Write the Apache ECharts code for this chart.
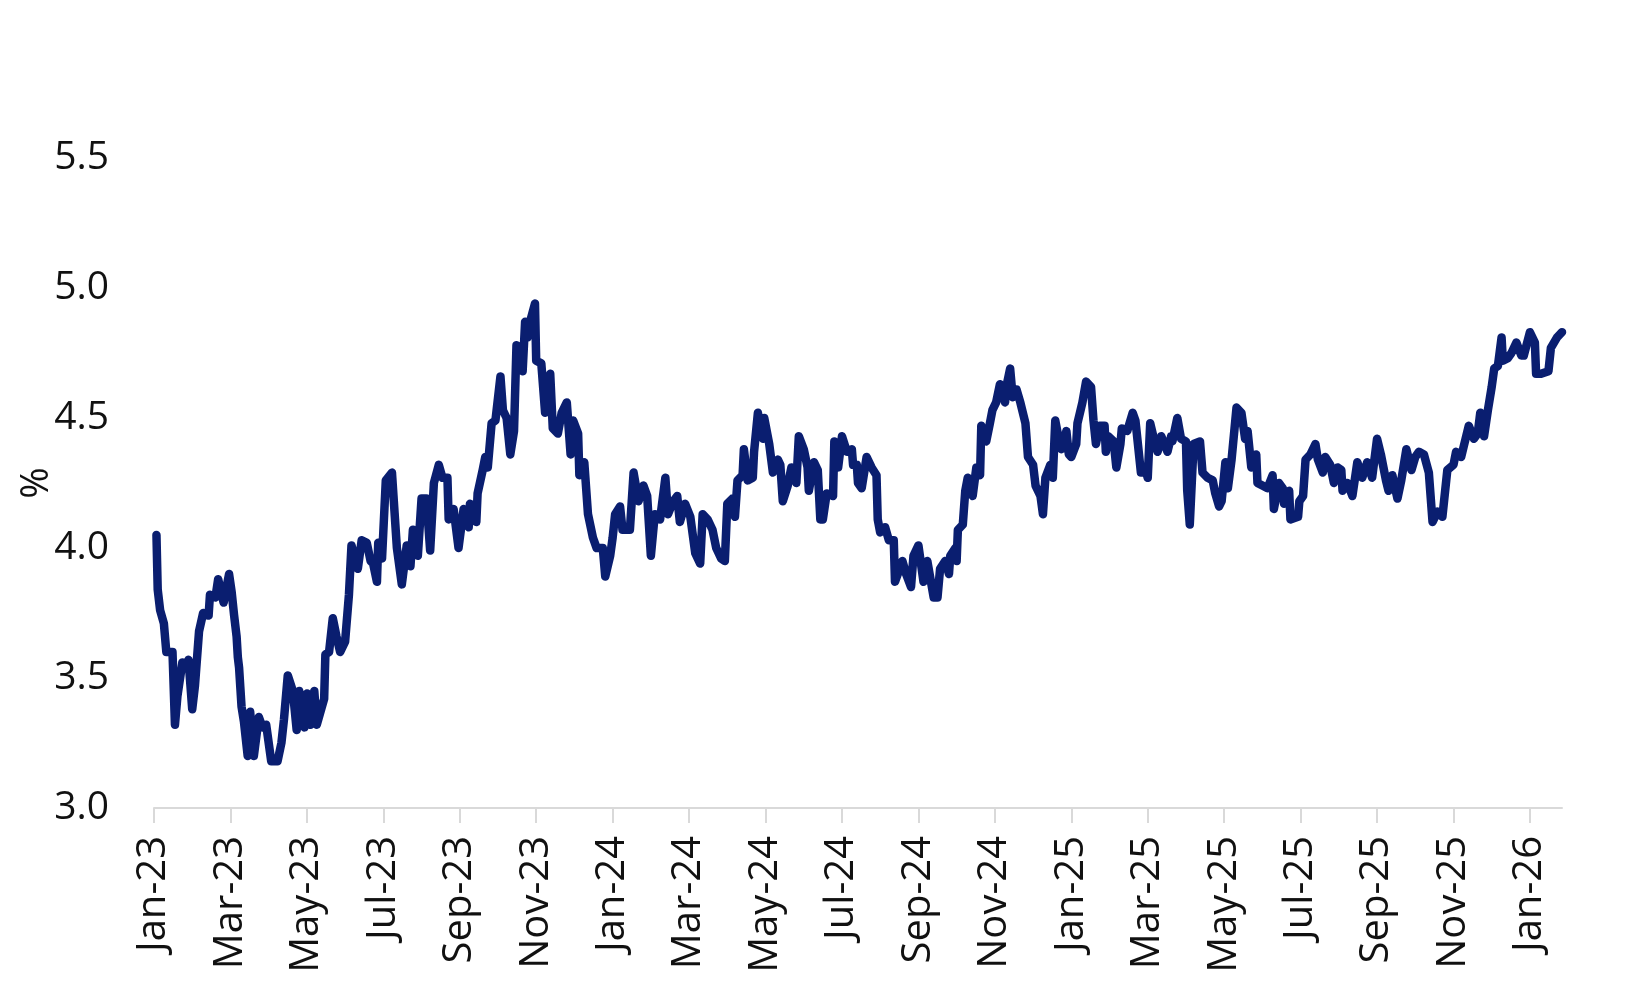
<!DOCTYPE html>
<html>
<head>
<meta charset="utf-8">
<title>Yield</title>
<script src="https://cdn.jsdelivr.net/npm/echarts@6.0.0/dist/echarts.min.js"></script>
<style>
  html, body { margin: 0; padding: 0; background: #fff; }
  #main { width: 1650px; height: 990px; }
</style>
</head>
<body>
<div id="main"></div>
<script>
// dates (roughly every few trading days)
var dates = [
  '2023-01-03','2023-01-04','2023-01-06','2023-01-09','2023-01-11','2023-01-16','2023-01-18','2023-01-20','2023-01-24','2023-01-27',
  '2023-01-29','2023-02-01','2023-02-03','2023-02-06','2023-02-09','2023-02-13','2023-02-14','2023-02-18','2023-02-20','2023-02-24',
  '2023-02-28','2023-03-02','2023-03-04','2023-03-06','2023-03-07','2023-03-08','2023-03-10','2023-03-12','2023-03-15','2023-03-17',
  '2023-03-20','2023-03-24','2023-03-27','2023-03-30','2023-04-03','2023-04-08','2023-04-11','2023-04-13','2023-04-16','2023-04-20',
  '2023-04-23','2023-04-25','2023-04-29','2023-05-01','2023-05-04','2023-05-07','2023-05-09','2023-05-15','2023-05-16','2023-05-19',
  '2023-05-22','2023-05-25','2023-05-28','2023-06-01','2023-06-04','2023-06-06','2023-06-11','2023-06-14','2023-06-18','2023-06-21',
  '2023-06-23','2023-06-26','2023-06-27','2023-06-30','2023-07-03','2023-07-08','2023-07-12','2023-07-16','2023-07-20','2023-07-23',
  '2023-07-25','2023-07-29','2023-08-01','2023-08-05','2023-08-08','2023-08-11','2023-08-15','2023-08-18','2023-08-22','2023-08-23',
  '2023-08-27','2023-08-31','2023-09-04','2023-09-08','2023-09-09','2023-09-14','2023-09-15','2023-09-19','2023-09-21','2023-09-23',
  '2023-09-26','2023-09-29','2023-10-03','2023-10-05','2023-10-08','2023-10-11','2023-10-14','2023-10-16','2023-10-19','2023-10-21',
  '2023-10-23','2023-10-25','2023-10-27','2023-10-31','2023-11-01','2023-11-05','2023-11-08','2023-11-12','2023-11-14','2023-11-18',
  '2023-11-21','2023-11-25','2023-11-28','2023-11-30','2023-12-04','2023-12-05','2023-12-09','2023-12-12','2023-12-16','2023-12-19',
  '2023-12-24','2023-12-26','2023-12-30',
  '2024-01-01','2024-01-03','2024-01-07','2024-01-09','2024-01-15','2024-01-18','2024-01-22','2024-01-26','2024-01-29','2024-02-01',
  '2024-02-04','2024-02-08','2024-02-12','2024-02-14','2024-02-18','2024-02-21','2024-02-23','2024-02-27','2024-03-02','2024-03-06',
  '2024-03-10','2024-03-12','2024-03-16','2024-03-20','2024-03-23','2024-03-27','2024-03-30','2024-04-01','2024-04-05','2024-04-07',
  '2024-04-09','2024-04-13','2024-04-14','2024-04-17','2024-04-21','2024-04-22','2024-04-25','2024-04-29','2024-04-30','2024-05-04',
  '2024-05-07','2024-05-11','2024-05-13','2024-05-15','2024-05-19','2024-05-22','2024-05-26','2024-05-28','2024-06-01','2024-06-04',
  '2024-06-05','2024-06-09','2024-06-12','2024-06-14','2024-06-16','2024-06-19','2024-06-24','2024-06-25','2024-06-28','2024-07-01',
  '2024-07-05','2024-07-09','2024-07-10','2024-07-13','2024-07-14','2024-07-17','2024-07-21','2024-07-25','2024-07-29','2024-07-30',
  '2024-08-01','2024-08-05','2024-08-08','2024-08-12','2024-08-13','2024-08-19','2024-08-22','2024-08-26','2024-08-28','2024-09-01',
  '2024-09-05','2024-09-08','2024-09-13','2024-09-16','2024-09-18','2024-09-22','2024-09-25','2024-09-26','2024-09-30','2024-10-01',
  '2024-10-02','2024-10-06','2024-10-08','2024-10-10','2024-10-14','2024-10-17','2024-10-20','2024-10-21','2024-10-25','2024-10-28',
  '2024-10-30','2024-11-02','2024-11-05','2024-11-09','2024-11-10','2024-11-13','2024-11-15','2024-11-18','2024-11-21','2024-11-25',
  '2024-11-27','2024-12-01','2024-12-03','2024-12-07','2024-12-09','2024-12-11','2024-12-15','2024-12-17','2024-12-19','2024-12-21',
  '2024-12-24','2024-12-28','2024-12-30',
  '2025-01-01','2025-01-05','2025-01-06','2025-01-10','2025-01-13','2025-01-17','2025-01-19','2025-01-21','2025-01-24','2025-01-28',
  '2025-01-29','2025-01-31','2025-02-04','2025-02-06','2025-02-09','2025-02-10','2025-02-14','2025-02-18','2025-02-20','2025-02-24',
  '2025-02-28','2025-03-01','2025-03-03','2025-03-06','2025-03-09','2025-03-12','2025-03-17','2025-03-20','2025-03-21','2025-03-25',
  '2025-03-28','2025-04-01','2025-04-02','2025-04-04','2025-04-07','2025-04-12','2025-04-14','2025-04-18','2025-04-22','2025-04-24',
  '2025-04-27','2025-04-29','2025-05-02','2025-05-04','2025-05-07','2025-05-11','2025-05-15','2025-05-18','2025-05-20','2025-05-23',
  '2025-05-27','2025-05-28','2025-06-01','2025-06-05','2025-06-09','2025-06-10','2025-06-14','2025-06-17','2025-06-18','2025-06-22',
  '2025-06-23','2025-06-29','2025-06-30','2025-07-03','2025-07-05','2025-07-09','2025-07-13','2025-07-15','2025-07-19','2025-07-21',
  '2025-07-25','2025-07-28','2025-07-31','2025-08-03','2025-08-04','2025-08-08','2025-08-12','2025-08-16','2025-08-20','2025-08-24',
  '2025-08-28','2025-09-01','2025-09-04','2025-09-08','2025-09-10','2025-09-13','2025-09-17','2025-09-20','2025-09-24','2025-09-28',
  '2025-10-01','2025-10-04','2025-10-08','2025-10-12','2025-10-15','2025-10-19','2025-10-23','2025-10-27','2025-11-01','2025-11-03',
  '2025-11-07','2025-11-09','2025-11-13','2025-11-17','2025-11-20','2025-11-22','2025-11-25','2025-11-28','2025-12-01','2025-12-03',
  '2025-12-06','2025-12-09','2025-12-10','2025-12-14','2025-12-17','2025-12-21','2025-12-25','2025-12-27',
  '2026-01-01','2026-01-05','2026-01-06','2026-01-10','2026-01-16','2026-01-18','2026-01-23','2026-01-27'
];

// yield, %
var yields = [
  4.05,3.84,3.76,3.71,3.60,3.60,3.32,3.43,3.56,3.55,
  3.57,3.38,3.47,3.68,3.75,3.74,3.82,3.81,3.88,3.79,
  3.90,3.83,3.74,3.66,3.58,3.54,3.39,3.33,3.20,3.37,
  3.20,3.35,3.31,3.32,3.18,3.18,3.25,3.34,3.51,3.45,
  3.30,3.45,3.31,3.44,3.32,3.45,3.32,3.42,3.59,3.60,
  3.73,3.66,3.60,3.64,3.82,4.01,3.92,4.03,4.02,3.95,
  3.94,3.87,4.02,3.96,4.26,4.29,4.00,3.86,4.01,3.93,
  4.07,3.97,4.19,4.19,3.99,4.25,4.32,4.27,4.27,4.11,
  4.15,4.00,4.15,4.08,4.17,4.10,4.21,4.30,4.35,4.31,
  4.48,4.49,4.66,4.53,4.50,4.36,4.45,4.78,4.77,4.68,
  4.87,4.81,4.87,4.94,4.72,4.71,4.52,4.67,4.46,4.44,
  4.52,4.56,4.36,4.49,4.44,4.28,4.33,4.13,4.04,4.00,
  4.00,3.89,3.97,
  4.04,4.13,4.16,4.07,4.07,4.29,4.18,4.24,4.20,3.97,
  4.13,4.11,4.27,4.13,4.18,4.20,4.10,4.17,4.12,3.98,
  3.94,4.13,4.11,4.07,4.00,3.96,3.95,4.17,4.19,4.12,
  4.26,4.28,4.38,4.26,4.27,4.37,4.52,4.42,4.50,4.40,
  4.29,4.34,4.32,4.18,4.24,4.31,4.25,4.43,4.38,4.31,
  4.22,4.33,4.30,4.11,4.11,4.21,4.20,4.41,4.31,4.43,
  4.37,4.38,4.32,4.32,4.25,4.23,4.35,4.31,4.28,4.11,
  4.06,4.08,4.03,4.03,3.87,3.95,3.90,3.85,3.97,4.01,
  3.87,3.95,3.81,3.81,3.92,3.95,3.90,3.97,4.00,3.95,
  4.07,4.09,4.22,4.27,4.20,4.31,4.28,4.47,4.41,4.48,
  4.53,4.56,4.63,4.56,4.62,4.69,4.58,4.61,4.56,4.48,
  4.35,4.32,4.24,4.20,4.13,4.27,4.32,4.27,4.49,4.44,
  4.38,4.45,4.36,
  4.35,4.40,4.48,4.56,4.64,4.62,4.49,4.40,4.47,4.47,
  4.37,4.43,4.41,4.31,4.40,4.46,4.45,4.52,4.49,4.29,
  4.29,4.27,4.48,4.42,4.37,4.43,4.37,4.43,4.41,4.50,
  4.42,4.41,4.22,4.09,4.40,4.41,4.29,4.27,4.26,4.21,
  4.16,4.18,4.33,4.23,4.34,4.54,4.52,4.42,4.45,4.31,
  4.36,4.25,4.24,4.23,4.28,4.15,4.25,4.23,4.17,4.22,
  4.11,4.12,4.18,4.20,4.34,4.36,4.40,4.34,4.29,4.35,
  4.32,4.25,4.31,4.30,4.22,4.25,4.20,4.33,4.27,4.33,
  4.27,4.42,4.36,4.26,4.22,4.28,4.19,4.26,4.38,4.30,
  4.35,4.37,4.36,4.29,4.10,4.14,4.12,4.30,4.32,4.37,
  4.35,4.39,4.47,4.42,4.44,4.52,4.43,4.53,4.62,4.69,
  4.70,4.81,4.72,4.73,4.75,4.79,4.74,4.74,
  4.83,4.79,4.67,4.67,4.68,4.77,4.81,4.83
];

var monthNames = ['Jan','Feb','Mar','Apr','May','Jun','Jul','Aug','Sep','Oct','Nov','Dec'];
var tickMonths = [0,2,4,6,8,10,12,14,16,18,20,22,24,26,28,30,32,34,36];
var yTicks = [3.0, 3.5, 4.0, 4.5, 5.0, 5.5];

// months since Jan 2023, fractional, so ticks land on the 1st of each month
function monthIndex(s) {
  var p = s.split('-');
  var y = +p[0], m = +p[1], d = +p[2];
  var days = new Date(y, m, 0).getDate();
  return (y - 2023) * 12 + (m - 1) + (d - 1) / days;
}

var seriesData = dates.map(function (d, i) {
  return [monthIndex(d), yields[i]];
});

var font = 'Open Sans';
var myChart = echarts.init(document.getElementById('main'));

var option = {
  animation: false,
  backgroundColor: '#fff',
  grid: {
    left: 154,
    right: 88,
    top: 158,
    bottom: 182,
    containLabel: false
  },
  xAxis: {
    type: 'value',
    min: 0,
    max: monthIndex(dates[dates.length - 1]),
    splitLine: { show: false },
    axisLine: { show: true, lineStyle: { color: '#d9d9d9', width: 2 } },
    axisTick: {
      show: true,
      length: 15,
      lineStyle: { color: '#d9d9d9', width: 2 },
      customValues: tickMonths
    },
    axisLabel: {
      rotate: 90,
      margin: 28,
      color: '#111',
      fontFamily: font,
      fontSize: 40,
      customValues: tickMonths,
      formatter: function (v) {
        var k = Math.round(v);
        return monthNames[k % 12] + '-' + (23 + Math.floor(k / 12));
      }
    }
  },
  yAxis: {
    type: 'value',
    min: yTicks[0],
    max: yTicks[yTicks.length - 1],
    interval: 0.5,
    name: '%',
    nameLocation: 'middle',
    nameRotate: 90,
    nameGap: 98,
    nameMoveOverlap: false,
    nameTextStyle: { color: '#111', fontFamily: font, fontSize: 38 },
    splitLine: { show: false },
    axisLine: { show: false },
    axisTick: { show: false },
    axisLabel: {
      margin: 45,
      color: '#111',
      fontFamily: font,
      fontSize: 39,
      formatter: function (v) { return v.toFixed(1); }
    }
  },
  series: [{
    type: 'line',
    data: seriesData,
    showSymbol: false,
    smooth: false,
    lineStyle: { color: '#0a1e70', width: 8.5, cap: 'round', join: 'round' }
  }]
};

myChart.setOption(option);
</script>
</body>
</html>
